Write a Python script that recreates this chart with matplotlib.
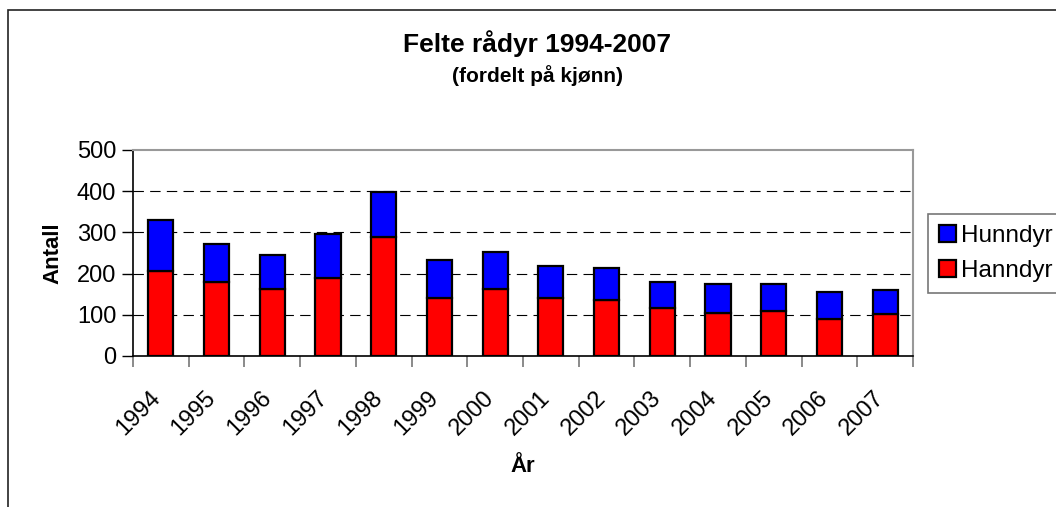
import matplotlib
matplotlib.use("Agg")
import matplotlib.pyplot as plt
from matplotlib.patches import Rectangle
import matplotlib.transforms as mtransforms
import numpy as np

years = ["1994", "1995", "1996", "1997", "1998", "1999", "2000",
         "2001", "2002", "2003", "2004", "2005", "2006", "2007"]
hanndyr = [207, 179, 163, 189, 290, 140, 163, 140, 136, 116, 105, 110, 90, 102]
totals = [330, 271, 246, 296, 397, 233, 252, 218, 214, 180, 175, 175, 155, 159]
hunndyr = [t - h for t, h in zip(totals, hanndyr)]
y_ticks = [0, 100, 200, 300, 400, 500]

plt.rcParams['font.family'] = ['Liberation Sans', 'DejaVu Sans']
plt.rcParams['lines.scale_dashes'] = False

W, H = 1056, 507
fig = plt.figure(figsize=(W / 100, H / 100), dpi=100)
fig.patch.set_facecolor('white')

# outer chart frame
fig.add_artist(Rectangle((8 / W, -0.1), 1.2, 1 - 10 / H + 0.1, transform=fig.transFigure,
                         fill=False, edgecolor='#222222', linewidth=1.2))

ax = fig.add_axes([133 / W, 1 - 356 / H, (913 - 133) / W, (356 - 150) / H])
x = np.arange(len(years))
bw = 0.45
ax.bar(x, hanndyr, bw, color='#ff0000', edgecolor='black', linewidth=1.6,
       label='Hanndyr', zorder=3)
ax.bar(x, hunndyr, bw, bottom=hanndyr, color='#0000ff', edgecolor='black',
       linewidth=1.6, label='Hunndyr', zorder=3)

ax.set_xlim(-0.5, len(years) - 0.5)
ax.set_ylim(0, 500)
ax.set_yticks(y_ticks)
ax.set_yticklabels([str(v) for v in y_ticks], fontsize=17)
for v in y_ticks[1:-1]:
    ax.axhline(v, color='black', linewidth=0.8, linestyle=(0, (7.5, 4.5)), zorder=1)

ax.set_xticks(x)
ax.set_xticklabels(years, rotation=45, ha='right', va='top',
                   rotation_mode='anchor', fontsize=17)
ax.tick_params(axis='x', which='major', length=0, pad=22)
shift = mtransforms.ScaledTranslation(-12 / 100, 0, fig.dpi_scale_trans)
for lab in ax.get_xticklabels():
    lab.set_transform(lab.get_transform() + shift)
ax.set_xticks(np.arange(-0.5, len(years), 1.0), minor=True)
ax.tick_params(axis='x', which='minor', length=8, width=1.2, color='#777777', direction='out')
ax.tick_params(axis='y', length=8, width=1.0, color='black', direction='out', pad=4)

for s in ['top', 'right']:
    ax.spines[s].set_color('#999999')
    ax.spines[s].set_linewidth(1.5)
for s in ['left', 'bottom']:
    ax.spines[s].set_color('black')
    ax.spines[s].set_linewidth(1.2)

ax.set_ylabel('Antall', fontsize=16, fontweight='bold', labelpad=10)
ax.set_xlabel('År', fontsize=16, fontweight='bold', labelpad=12)

fig.text(537 / W, 1 - 44 / H, 'Felte rådyr 1994-2007', ha='center', va='center',
         fontsize=19, fontweight='bold')
fig.text(538 / W, 1 - 76 / H, '(fordelt på kjønn)', ha='center', va='center',
         fontsize=15, fontweight='bold')

handles, labels = ax.get_legend_handles_labels()
leg = fig.legend(handles[::-1], labels[::-1], loc='upper left',
                 bbox_to_anchor=(928 / W, 1 - 214 / H), fontsize=17.5,
                 frameon=True, fancybox=False, handlelength=0.7, handleheight=0.7,
                 handletextpad=0.2, borderpad=0.45, labelspacing=0.55, borderaxespad=0)
leg.get_frame().set_edgecolor('#555555')
leg.get_frame().set_linewidth(1.2)

fig.savefig('out.png', dpi=100)
